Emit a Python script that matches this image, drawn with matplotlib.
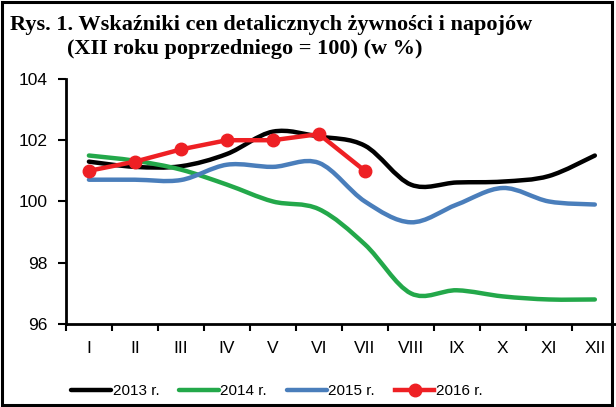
import matplotlib
matplotlib.use("Agg")
import matplotlib.pyplot as plt
from matplotlib.path import Path
from matplotlib.patches import PathPatch, Rectangle
from matplotlib.lines import Line2D

# miesiące i wskaźniki (XII roku poprzedniego = 100)
months = ["I", "II", "III", "IV", "V", "VI", "VII", "VIII", "IX", "X", "XI", "XII"]
y2013 = [101.3, 101.13, 101.15, 101.55, 102.28, 102.12, 101.82, 100.55, 100.62, 100.65, 100.83, 101.5]
y2014 = [101.5, 101.33, 101.04, 100.55, 100.0, 99.75, 98.6, 97.0, 97.1, 96.9, 96.8, 96.8]
y2015 = [100.71, 100.71, 100.7, 101.2, 101.13, 101.26, 100.0, 99.32, 99.9, 100.44, 100.0, 99.9]
y2016 = [101.0, 101.3, 101.7, 102.0, 102.0, 102.2, 101.0]

series = [("2013 r.", y2013, "black"),
          ("2014 r.", y2014, "#23a84a"),
          ("2015 r.", y2015, "#4a7ebb")]
red = "#ee2024"

plt.rcParams["font.family"] = ["Liberation Sans", "DejaVu Sans"]


def smooth_path(xs, ys):
    # wygładzona linia jak w Excelu: krzywe Beziera (Catmull-Rom)
    pts = list(zip(xs, ys))
    verts = [pts[0]]
    codes = [Path.MOVETO]
    n = len(pts)
    for i in range(n - 1):
        p0 = pts[i - 1] if i > 0 else pts[i]
        p1 = pts[i]
        p2 = pts[i + 1]
        p3 = pts[i + 2] if i + 2 < n else pts[i + 1]
        c1 = (p1[0] + (p2[0] - p0[0]) / 6, p1[1] + (p2[1] - p0[1]) / 6)
        c2 = (p2[0] - (p3[0] - p1[0]) / 6, p2[1] - (p3[1] - p1[1]) / 6)
        verts += [c1, c2, p2]
        codes += [Path.CURVE4] * 3
    return Path(verts, codes)


fig = plt.figure(figsize=(6.16, 4.07), dpi=100)
ax = fig.add_axes([0.107, 0.204, 0.896, 0.602])

x = list(range(1, len(months) + 1))
handles = []
for label, vals, col in series:
    patch = PathPatch(smooth_path(x, vals), fill=False, edgecolor=col, lw=3.2,
                      capstyle="round", joinstyle="round")
    ax.add_patch(patch)
    handles.append(Line2D([], [], color=col, lw=3.2, solid_capstyle="round", label=label))

ax.plot(x[:len(y2016)], y2016, color=red, lw=3.2, marker="o", ms=9,
        solid_capstyle="round")
handles.append(Line2D([], [], color=red, lw=3.2, marker="o", ms=9, label="2016 r."))

ax.set_xlim(0.5, 12.5)
ax.set_ylim(96, 104)
ax.set_yticks([96, 98, 100, 102, 104])
ax.set_xticks(x)
ax.set_xticklabels(months)
ax.set_xticks([i + 0.5 for i in range(0, 13)], minor=True)
ax.tick_params(axis="x", which="major", length=0, pad=12, labelsize=12.5)
ax.tick_params(axis="x", which="minor", length=5, width=1.5, direction="out")
ax.tick_params(axis="y", length=6, width=1.5, pad=7, labelsize=12.5)

for s in ["top", "right"]:
    ax.spines[s].set_visible(False)
for s in ["left", "bottom"]:
    ax.spines[s].set_linewidth(2)

fig.text(10 / 616, 1 - 30 / 407, "Rys. 1. Wskaźniki cen detalicznych żywności i napojów",
         family="Liberation Serif", weight="bold", fontsize=16, va="baseline")
fig.text(67 / 616, 1 - 54 / 407, "(XII roku poprzedniego = 100) (w %)",
         family="Liberation Serif", weight="bold", fontsize=16, va="baseline")

fig.legend(handles=handles, loc="center", bbox_to_anchor=(277 / 616, 1 - 391 / 407),
           ncol=4, frameon=False, fontsize=11, handlelength=2.6, handletextpad=0.1,
           columnspacing=1.3)

fig.patches.append(Rectangle((2 / 616, 2 / 407), 610 / 616, 403 / 407,
                             transform=fig.transFigure, fill=False,
                             edgecolor="black", lw=2.2))

fig.savefig("out.png", dpi=100)
